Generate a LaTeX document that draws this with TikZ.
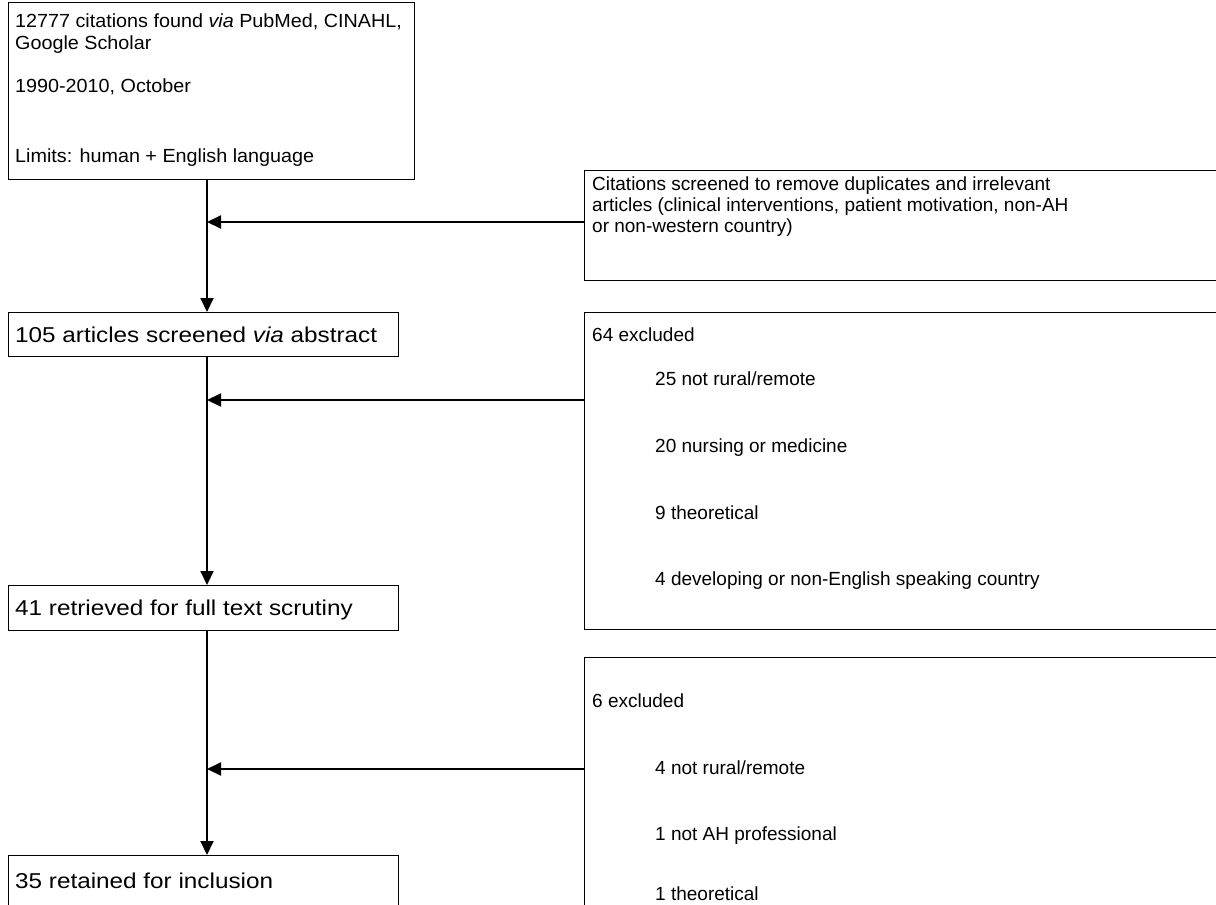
\documentclass[tikz,border=0pt]{standalone}
\usepackage{fontspec}
\usepackage{graphicx}
\setmainfont{Liberation Sans}
\usetikzlibrary{arrows.meta}
\newcommand{\lstretch}[1]{\scalebox{1.13}[1]{#1}}
\newcommand{\bstretch}[1]{\scalebox{1.04}[1]{#1}}
\begin{document}
\begin{tikzpicture}[x=1pt,y=-1pt,
  box/.style={draw=black, line width=1.4pt, anchor=north west, inner sep=0pt},
  txt/.style={anchor=base west, inner sep=0pt, font=\fontsize{19}{22}\selectfont},
  bigtxt/.style={txt, font=\fontsize{21.5}{24}\selectfont},
  conn/.style={line width=2pt},
  arr/.style={conn, -{Triangle[length=14pt,width=13pt]}}]
\useasboundingbox (0,0) rectangle (1216,905);
\clip (0,0) rectangle (1216,905);
% boxes
\node[box, minimum width=406pt, minimum height=177pt] (b1) at (8,2) {};
\node[box, minimum width=650pt, minimum height=110pt] (b2) at (584,170) {};
\node[box, minimum width=390pt, minimum height=44pt] (b3) at (8,312) {};
\node[box, minimum width=650pt, minimum height=317pt] (b4) at (584,312) {};
\node[box, minimum width=390pt, minimum height=45pt] (b5) at (8,585) {};
\node[box, minimum width=650pt, minimum height=300pt] (b6) at (584,657) {};
\node[box, minimum width=390pt, minimum height=100pt] (b7) at (8,855) {};
% texts
\node[txt] (t1a) at (15,27) {\bstretch{12777 citations found \textit{via} PubMed, CINAHL,}};
\node[txt] (t1b) at (15,49) {\bstretch{Google Scholar}};
\node[txt] (t1c) at (15,92) {\bstretch{1990-2010, October}};
\node[txt] (t1d) at (15,162) {\bstretch{Limits: human + English language}};
\node[txt] (t2a) at (592,190) {Citations screened to remove duplicates and irrelevant};
\node[txt] (t2b) at (592,211) {articles (clinical interventions, patient motivation, non-AH};
\node[txt] (t2c) at (592,232) {or non-western country)};
\node[bigtxt] (t3) at (15,342) {\lstretch{105 articles screened \textit{via} abstract}};
\node[txt] (t4a) at (592,341) {64 excluded};
\node[txt] (t4b) at (655,385) {25 not rural/remote};
\node[txt] (t4c) at (655,452) {20 nursing or medicine};
\node[txt] (t4d) at (655,519) {9 theoretical};
\node[txt] (t4e) at (655,585) {4 developing or non-English speaking country};
\node[bigtxt] (t5) at (15,615) {\lstretch{41 retrieved for full text scrutiny}};
\node[txt] (t6a) at (592,707) {6 excluded};
\node[txt] (t6b) at (655,774) {4 not rural/remote};
\node[txt] (t6c) at (655,840) {1 not AH professional};
\node[txt] (t6d) at (655,900) {1 theoretical};
\node[bigtxt] (t7) at (15,888) {\lstretch{35 retained for inclusion}};
% connectors
\coordinate (vx) at (207,0);
\coordinate (h1) at (0,222);
\coordinate (h2) at (0,400);
\coordinate (h3) at (0,769);
\draw[arr] (b1.south -| vx) -- (b3.north -| vx);
\draw[arr] (b3.south -| vx) -- (b5.north -| vx);
\draw[arr] (b5.south -| vx) -- (b7.north -| vx);
\draw[arr] (b2.west |- h1) -- (vx |- h1);
\draw[arr] (b4.west |- h2) -- (vx |- h2);
\draw[arr] (b6.west |- h3) -- (vx |- h3);
\end{tikzpicture}
\end{document}
